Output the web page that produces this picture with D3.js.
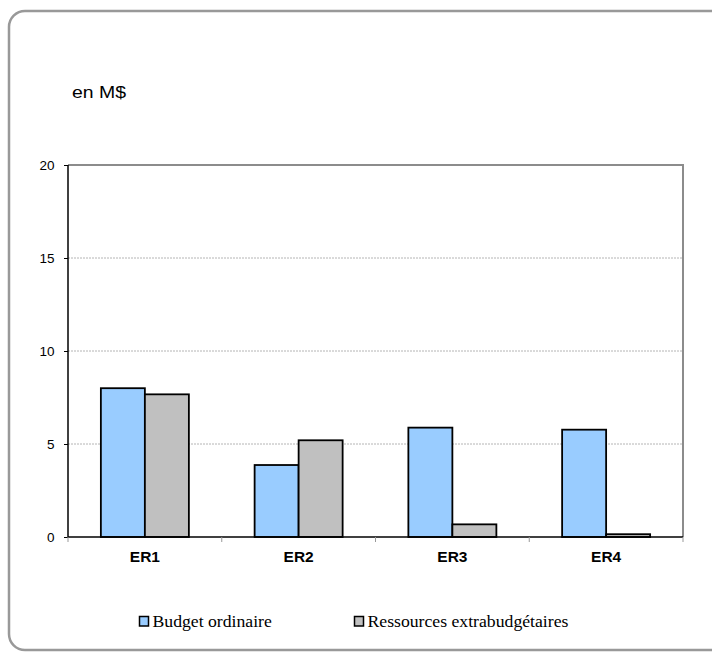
<!DOCTYPE html>
<html><head><meta charset="utf-8">
<script src="https://cdn.jsdelivr.net/npm/d3@7"></script>
<style>body{margin:0;background:#fff}svg{display:block}</style>
</head><body>
<script>
const categories = ["ER1", "ER2", "ER3", "ER4"];
const seriesNames = ["Budget ordinaire", "Ressources extrabudgétaires"];
const budgetOrdinaire = [8.0, 3.87, 5.88, 5.77];
const ressourcesExtra = [7.67, 5.2, 0.68, 0.15];
const yTicks = [0, 5, 10, 15, 20];
const colors = ["#99CCFF", "#C0C0C0"];

(function () {
const W = 712, H = 652;
const svg = d3.select("body").append("svg").attr("width", W).attr("height", H);

// outer rounded frame
svg.append("rect").attr("x", 9).attr("y", 11).attr("width", 760).attr("height", 639)
  .attr("rx", 16).attr("fill", "#fff").attr("stroke", "#999").attr("stroke-width", 2.5);

const pLeft = 68, pRight = 683, pTop = 165, pBottom = 537;
const x = d3.scaleBand().domain(categories).range([pLeft, pRight]);
const xs = d3.scaleBand().domain(seriesNames).range([0, x.bandwidth()]).paddingOuter(0.747).paddingInner(0);
const y = d3.scaleLinear().domain([0, 20]).range([pBottom, pTop]);

// gridlines
svg.append("g").selectAll("line").data(yTicks.filter(t => t > 0 && t < 20)).join("line")
  .attr("x1", pLeft).attr("x2", pRight).attr("y1", d => y(d)).attr("y2", d => y(d))
  .attr("stroke", "#b4b4b4").attr("stroke-width", 1).attr("stroke-dasharray", "2,1");

// plot frame top & right
svg.append("path").attr("d", `M${pLeft},${y(20)}H${pRight}V${pBottom}`)
  .attr("fill", "none").attr("stroke", "#8c8c8c").attr("stroke-width", 2);

// bars
const data = categories.map((c, i) => ({c, vals: [budgetOrdinaire[i], ressourcesExtra[i]]}));
const g = svg.append("g");
data.forEach(d => {
  d.vals.forEach((v, j) => {
    g.append("rect")
      .attr("x", x(d.c) + xs(seriesNames[j]))
      .attr("y", y(v))
      .attr("width", xs.bandwidth())
      .attr("height", y(0) - y(v))
      .attr("fill", colors[j]).attr("stroke", "#000").attr("stroke-width", 1.8);
  });
});

// y axis
const yAxis = d3.axisLeft(y).tickValues(yTicks).tickSize(4).tickPadding(9.5);
const ya = svg.append("g").attr("transform", `translate(${pLeft},0)`).call(yAxis);
ya.select(".domain").remove();
ya.selectAll(".tick line").attr("stroke", "#000");
ya.selectAll("text").attr("font-family", "Liberation Sans, Arial, sans-serif").attr("font-size", 13.5).attr("fill", "#000");
svg.append("line").attr("x1", pLeft).attr("x2", pLeft).attr("y1", pTop).attr("y2", pBottom + 0.5)
  .attr("stroke", "#000").attr("stroke-width", 1.5);

// x axis
svg.append("line").attr("x1", pLeft).attr("x2", pRight).attr("y1", pBottom).attr("y2", pBottom)
  .attr("stroke", "#000").attr("stroke-width", 1.5);
const bounds = categories.map(c => x(c)).concat([pRight]);
svg.append("g").selectAll("line").data(bounds).join("line")
  .attr("x1", d => d).attr("x2", d => d).attr("y1", pBottom).attr("y2", pBottom + 5)
  .attr("stroke", "#999").attr("stroke-width", 1);
svg.append("g").selectAll("text").data(categories).join("text")
  .attr("x", d => x(d) + x.bandwidth() / 2).attr("y", pBottom + 25)
  .attr("text-anchor", "middle").attr("font-family", "Liberation Sans, Arial, sans-serif")
  .attr("font-size", 15.5).attr("font-weight", "bold").text(d => d);

// unit label
svg.append("text").attr("x", 72).attr("y", 97.5).attr("font-family", "Liberation Sans, Arial, sans-serif")
  .attr("font-size", 17).attr("textLength", 54).attr("lengthAdjust", "spacingAndGlyphs").text("en M$");

// legend
const legX = [139, 354];
seriesNames.forEach((n, i) => {
  svg.append("rect").attr("x", legX[i] + 0.5).attr("y", 616.5).attr("width", 9).attr("height", 9.5)
    .attr("fill", colors[i]).attr("stroke", "#000").attr("stroke-width", 1.5);
  svg.append("text").attr("x", legX[i] + 13.5).attr("y", 627)
    .attr("font-family", "Liberation Serif, Times New Roman, serif").attr("font-size", 17.7).text(n);
});
})();
</script>
</body></html>
